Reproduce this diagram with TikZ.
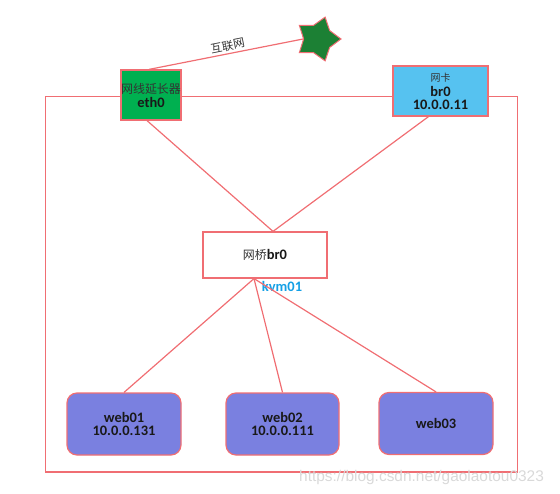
\documentclass[tikz,border=0pt]{standalone}
\usepackage{fontspec}
\setmainfont{Carlito}
\newfontfamily\cjk{Noto Sans CJK SC}
\newfontfamily\wmfont{Liberation Sans}
\usetikzlibrary{shapes.geometric,calc}
\definecolor{lred}{RGB}{240,110,115}
\definecolor{ethgreen}{RGB}{0,176,80}
\definecolor{stargreen}{RGB}{28,128,52}
\definecolor{cardblue}{RGB}{86,194,240}
\definecolor{webfill}{RGB}{122,128,224}
\definecolor{kvmblue}{RGB}{20,160,230}
\tikzset{
  conn/.style={draw=lred, line width=1.2bp},
  boxstyle/.style={draw=lred, line width=1.2bp, rectangle, inner sep=0pt, align=center,
    font=\fontsize{14.5}{14}\selectfont\bfseries, text=black!90},
  lbl/.style={inner sep=0pt, align=center, font=\fontsize{14.5}{14}\selectfont\bfseries, text=black!90},
  webbox/.style={boxstyle, fill=webfill, rounded corners=10bp, minimum width=114bp, minimum height=62bp},
  cjktxt/.style={inner sep=0pt, font=\cjk\fontsize{12}{12}\selectfont, text=black!80},
}
\begin{document}
\begin{tikzpicture}[x=1bp, y=-1bp]
\useasboundingbox (0,0) rectangle (560,494);
% outer frame
\draw[conn] (45.5,96.5) rectangle (517.5,472);
% nodes
\node[boxstyle, fill=ethgreen, minimum width=60bp, minimum height=50bp] (eth0) at (151,95) {};
\node[cjktxt] (ethcn) at (151,88.5) {网线延长器};
\node[lbl] (ethen) at (151,102.5) {eth0};
\node[boxstyle, fill=cardblue, minimum width=95bp, minimum height=50bp] (br0) at (440.5,91) {};
\node[cjktxt, font=\cjk\fontsize{10}{10}\selectfont] (brcn) at (440.5,77.5) {网卡};
\node[lbl] (bren) at (440.5,91.5) {br0};
\node[lbl] (brip) at (440.5,105) {10.0.0.11};
\node[star, star points=5, star point ratio=1.6, shape border rotate=-18,
  minimum size=46bp, inner sep=0pt, fill=stargreen, draw=lred, line width=1bp] (inet) at (318,39) {};
\node[boxstyle, fill=white, minimum width=124bp, minimum height=46bp] (bridge) at (265,255) {};
\node[inner sep=0pt] (bridgetxt) at (265,255) {\cjk\fontsize{12}{12}\selectfont\color{black!80}网桥\fontsize{14.5}{14}\selectfont\bfseries\rmfamily\color{black!90}br0};
\node[lbl, text=kvmblue] (kvm) at (282,286) {kvm01};
\node[webbox] (web01) at (124,424) {web01\\10.0.0.131};
\node[webbox, minimum width=113bp] (web02) at (282.5,424) {web02\\10.0.0.111};
\node[webbox] (web03) at (436,423.5) {web03};
% connectors
\coordinate (tophub) at ($(bridge.north)+(8,0)$);
\coordinate (bothub) at ($(bridge.south)+(-11,0)$);
\coordinate (ethout) at ($(eth0.south)+(-4,0)$);
\coordinate (brout) at ($(br0.south)+(-12,0)$);
\coordinate (ethtop) at ($(eth0.north)+(-2,0)$);
\draw[conn] (ethout) -- (tophub);
\draw[conn] (brout) -- (tophub);
\draw[conn] (bothub) -- (web01.north);
\draw[conn] (bothub) -- (web02.north);
\draw[conn] (bothub) -- (web03.north);
\draw[conn] (ethtop) -- node[pos=0.52, above=2bp, sloped, cjktxt, font=\cjk\fontsize{11.5}{12}\selectfont] {互联网} (inet.west);
% watermark
\node[anchor=base west, inner sep=0pt, text=gray!30, font=\wmfont\fontsize{15.5}{16}\selectfont] (wm) at (299,481) {https://blog.csdn.net/gaolaotou0323};
\end{tikzpicture}
\end{document}
